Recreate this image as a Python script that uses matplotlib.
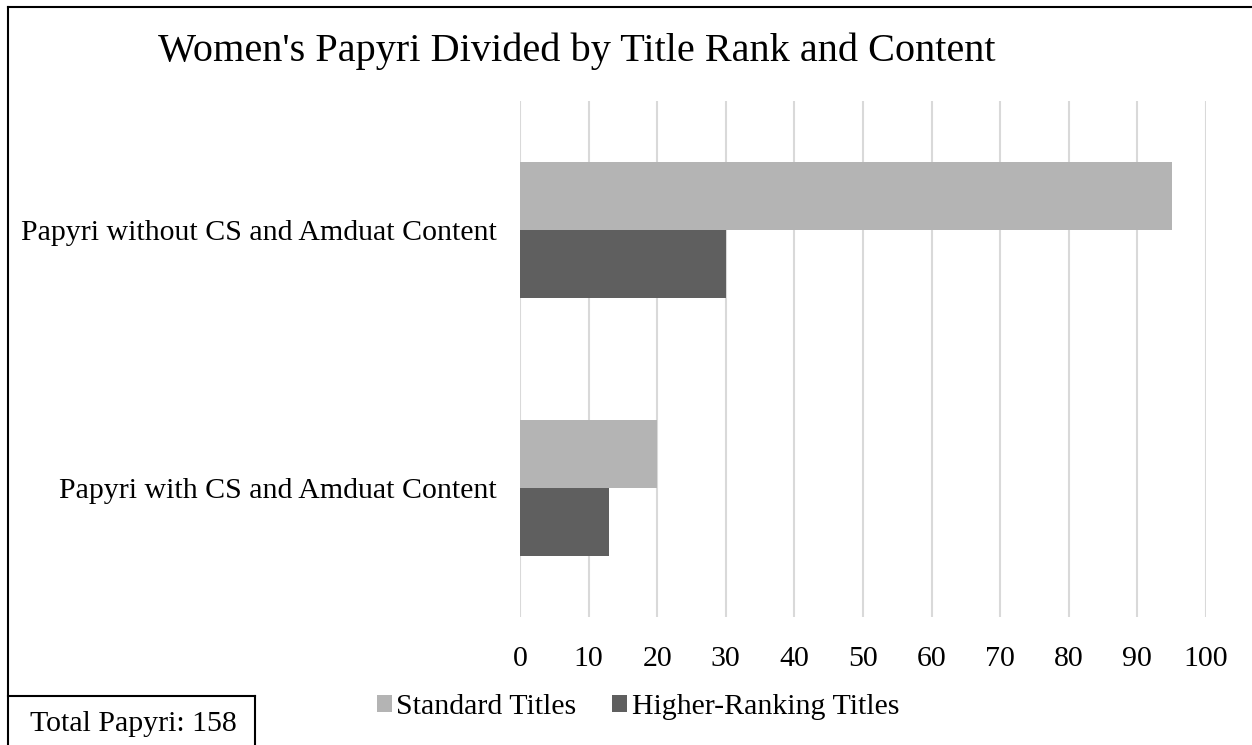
import matplotlib
matplotlib.use("Agg")
import matplotlib.pyplot as plt
from matplotlib.lines import Line2D
import numpy as np

categories = ["Papyri with CS and Amduat Content", "Papyri without CS and Amduat Content"]
standard_titles = [20, 95]
higher_ranking_titles = [13, 30]
series_names = ["Standard Titles", "Higher-Ranking Titles"]
x_ticks = [0, 10, 20, 30, 40, 50, 60, 70, 80, 90, 100]
title = "Women's Papyri Divided by Title Rank and Content"
note = "Total Papyri: 158"

plt.rcParams['font.family'] = ['Liberation Serif', 'DejaVu Serif']

W, H = 1252, 745
fig = plt.figure(figsize=(W / 100, H / 100), dpi=100)

def fx(px):
    return px / W

def fy(py):
    return 1 - py / H

ax = fig.add_axes([fx(520), fy(617), fx(1206) - fx(520), fy(101) - fy(617)])

y = np.arange(len(categories))
h = 0.262
light = "#b4b4b4"
dark = "#5f5f5f"
ax.barh(y + h / 2, standard_titles, height=h, color=light, label=series_names[0], zorder=3)
ax.barh(y - h / 2, higher_ranking_titles, height=h, color=dark, label=series_names[1], zorder=3)

ax.set_xlim(0, 100)
ax.set_ylim(-0.5, 1.5)
ax.set_xticks(x_ticks)
ax.set_yticks(y)
ax.set_yticklabels(categories)
ax.grid(axis='x', color="#d9d9d9", linewidth=1.5, zorder=0)
ax.set_axisbelow(True)
for s in ax.spines.values():
    s.set_visible(False)
ax.tick_params(axis='both', length=0, labelsize=21.5, colors="black")
ax.tick_params(axis='x', pad=21)
ax.tick_params(axis='y', pad=17)

fig.text(fx(577), fy(51), title, ha='center', va='center', fontsize=29)

leg = fig.legend(loc='center', bbox_to_anchor=(fx(638), fy(707)), ncol=2, frameon=False,
                 fontsize=21.5, handlelength=0.5, handleheight=0.5, handletextpad=0.15,
                 columnspacing=1.2, borderpad=0)

# border lines
fig.add_artist(Line2D([fx(8), fx(8)], [fy(7), 0], color='black', linewidth=1.5))
fig.add_artist(Line2D([fx(8), 1], [fy(7), fy(7)], color='black', linewidth=1.5))
# note box
fig.add_artist(Line2D([fx(8), fx(255)], [fy(696), fy(696)], color='black', linewidth=1.5))
fig.add_artist(Line2D([fx(255), fx(255)], [fy(696), 0], color='black', linewidth=1.5))
fig.text(fx(133), fy(724), note, ha='center', va='center', fontsize=21.5)

fig.savefig("out.png", dpi=100)
